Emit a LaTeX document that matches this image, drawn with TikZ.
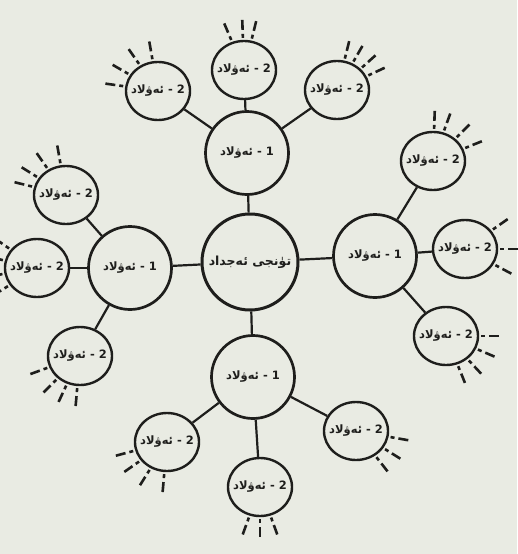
\documentclass[tikz,border=0pt]{standalone}
\usepackage{fontspec}
\usetikzlibrary{calc,shapes.geometric}
\TeXXeTstate=1
\newfontfamily\arabicfont[Script=Arabic,BoldFont={DejaVu Sans Bold}]{DejaVu Sans}
\definecolor{paper}{RGB}{233,235,227}
\definecolor{ink}{RGB}{30,30,28}
\newcommand{\gtxt}[1]{\makebox[0pt]{\beginR #1\endR}}
\begin{document}
\begin{tikzpicture}[x=1pt,y=-1pt,
  lbl/.style={font=\arabicfont\bfseries\fontsize{11.5}{13}\selectfont,text=ink},
  gen0/.style={circle,draw=ink,line width=3pt,minimum size=96pt,inner sep=0pt,lbl,font=\arabicfont\bfseries\fontsize{12.5}{14}\selectfont},
  gen1/.style={circle,draw=ink,line width=2.7pt,minimum size=83pt,inner sep=0pt,lbl},
  gen2/.style={ellipse,draw=ink,line width=2.4pt,minimum width=64pt,minimum height=58pt,inner sep=0pt,lbl},
  link/.style={draw=ink,line width=2.2pt},
  ray/.style={draw=ink,line width=2.6pt,dash pattern=on 4pt off 4pt on 10pt off 100pt}]
\fill[paper] (0,0) rectangle (517,554);
\useasboundingbox (0,0) rectangle (517,554);
% root
\node[gen0] (r) at (250,262) {\gtxt{تۈنجى ئەجداد}};
% first generation
\node[gen1] (t) at (247,153) {\gtxt{1 - ئەۋلاد}};
\node[gen1] (e) at (375,256) {\gtxt{1 - ئەۋلاد}};
\node[gen1] (w) at (130,268) {\gtxt{1 - ئەۋلاد}};
\node[gen1] (s) at (253,377) {\gtxt{1 - ئەۋلاد}};
% second generation
\node[gen2] (tt) at (244,70)  {\gtxt{2 - ئەۋلاد}};
\node[gen2] (tl) at (158,91)  {\gtxt{2 - ئەۋلاد}};
\node[gen2] (tr) at (337,90)  {\gtxt{2 - ئەۋلاد}};
\node[gen2] (wt) at (66,195)  {\gtxt{2 - ئەۋلاد}};
\node[gen2] (ww) at (37,268)  {\gtxt{2 - ئەۋلاد}};
\node[gen2] (wb) at (80,356)  {\gtxt{2 - ئەۋلاد}};
\node[gen2] (et) at (433,161) {\gtxt{2 - ئەۋلاد}};
\node[gen2] (ee) at (465,249) {\gtxt{2 - ئەۋلاد}};
\node[gen2] (eb) at (446,336) {\gtxt{2 - ئەۋلاد}};
\node[gen2] (sl) at (167,442) {\gtxt{2 - ئەۋلاد}};
\node[gen2] (ss) at (260,487) {\gtxt{2 - ئەۋلاد}};
\node[gen2] (sr) at (356,431) {\gtxt{2 - ئەۋلاد}};
% links
\foreach \a/\b in {r/t,r/e,r/w,r/s,t/tt,t/tl,t/tr,w/wt,w/ww,w/wb,e/et,e/ee,e/eb,s/sl,s/ss,s/sr}
  \draw[link] (\a) -- (\b);
% rays of further generations
\foreach \n/\angs in {tt/{76,92,113},tl/{100,125,150,172},tr/{25,42,60,76},
  wt/{100,125,148,166},ww/{145,167,190,212},wb/{200,225,245,265},
  et/{22,45,70,88},ee/{-28,0,35},eb/{-68,-47,-23,0},
  sl/{195,215,238,265},ss/{250,270,290},sr/{-52,-32,-10}}
  \foreach \a in \angs
    \draw[ray] ($(\n.\a)+(\a:2pt)$) -- ($(\n.\a)+(\a:23pt)$);
\end{tikzpicture}
\end{document}
